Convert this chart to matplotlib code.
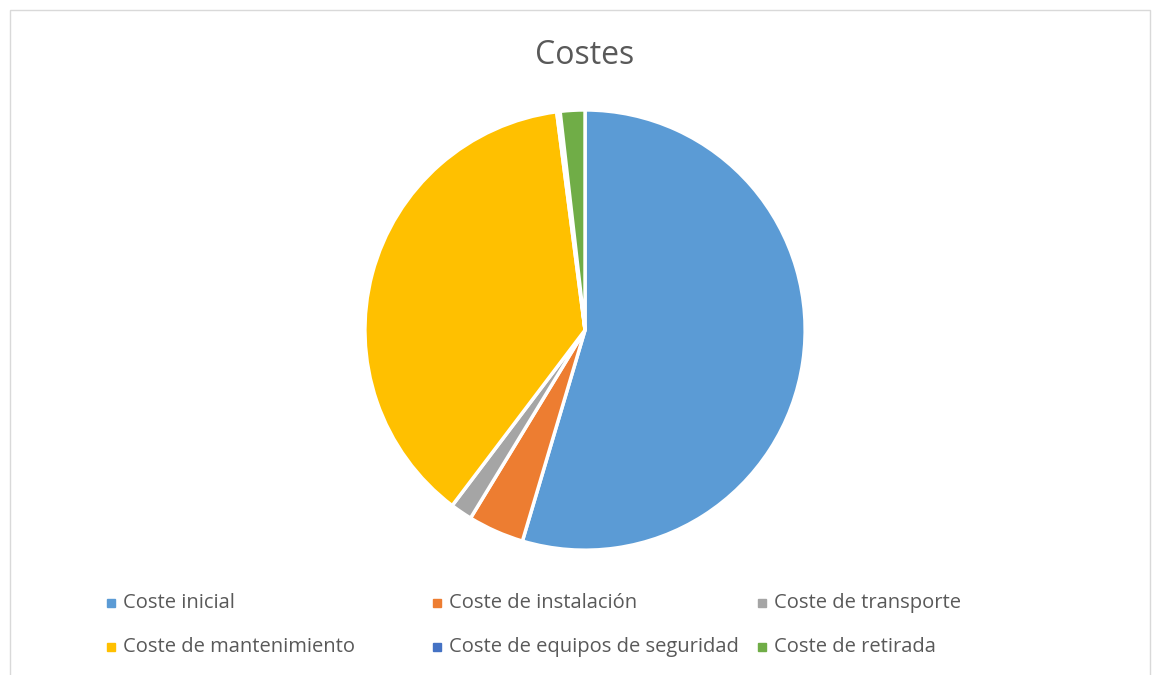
import matplotlib.pyplot as plt
from matplotlib.patches import Rectangle

labels = ['Coste inicial', 'Coste de instalación', 'Coste de transporte',
          'Coste de mantenimiento', 'Coste de equipos de seguridad', 'Coste de retirada']
values = [54.4, 4.1, 1.6, 37.5, 0.25, 1.8]
colors = ['#5B9BD5', '#ED7D31', '#A5A5A5', '#FFC000', '#4472C4', '#70AD47']

plt.rcParams['font.family'] = ['Open Sans', 'DejaVu Sans']

fig = plt.figure(figsize=(11.53, 6.75), dpi=100)

# chart border
fig.patches.append(Rectangle((0.009, -0.01), 0.988, 0.995, transform=fig.transFigure,
                             fill=False, edgecolor='#D9D9D9', linewidth=1))

ax = fig.add_axes([0.5074 - 0.189, 0.511 - 0.323, 0.378, 0.646])
ax.pie(values, colors=colors, startangle=90, counterclock=False,
       wedgeprops=dict(edgecolor='white', linewidth=2.5))
ax.set_xlim(-0.99, 0.99)
ax.set_ylim(-0.99, 0.99)
ax.set_aspect('equal')

fig.text(0.5074, 1 - 55 / 675, 'Costes', ha='center', va='center',
         fontsize=23, color='#595959')

# legend, 3 columns x 2 rows
col_x = [107, 433, 758]
row_y = [603, 647]
for i, (lab, c) in enumerate(zip(labels, colors)):
    x = col_x[i % 3]
    y = row_y[i // 3]
    fig.patches.append(Rectangle((x / 1153, 1 - (y + 4) / 675), 8 / 1153, 8 / 675,
                                 transform=fig.transFigure, color=c))
    fig.text((x + 16) / 1153, 1 - y / 675, lab, ha='left', va='center',
             fontsize=14.5, color='#595959')

fig.savefig('out.png', dpi=100)
